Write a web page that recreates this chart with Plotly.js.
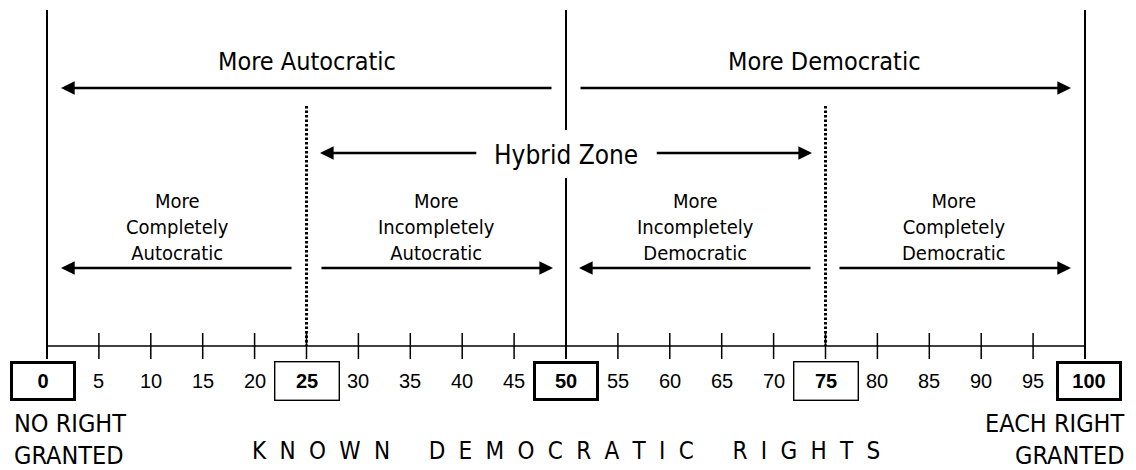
<!DOCTYPE html>
<html>
<head>
<meta charset="utf-8">
<script src="https://cdn.plot.ly/plotly-3.0.1.min.js"></script>
<style>
  html, body { margin: 0; padding: 0; background: #fff; }
  #chart { width: 1136px; height: 470px; }
</style>
</head>
<body>
<div id="chart"></div>
<script>
// scale values
const tickValues = [5, 10, 15, 20, 25, 30, 35, 40, 45, 50, 55, 60, 65, 70, 75, 80, 85, 90, 95]
const plainTicks = [5, 10, 15, 20, 30, 35, 40, 45, 55, 60, 65, 70, 80, 85, 90, 95]
const boxedTicks = [0, 25, 50, 75, 100]
const boxedHeavy = [true, false, true, false, true]
const solidLines = [0, 50, 100]
const dottedLines = [25, 75]

// arrows: tail -> tip (in scale units)
const topLabels = ['More Autocratic', 'More Democratic']
const topTail = [48.75, 51.25]
const topTip = [1.35, 98.65]

const hybridLabel = 'Hybrid Zone'
const hybridTail = [41.5, 58.6]
const hybridTip = [26.3, 73.7]

const zoneLabels = ['More<br>Completely<br>Autocratic', 'More<br>Incompletely<br>Autocratic',
    'More<br>Incompletely<br>Democratic', 'More<br>Completely<br>Democratic']
const zoneTail = [23.7, 26.3, 73.7, 76.2]
const zoneTip = [1.35, 48.75, 51.25, 98.65]

const axisWords = ['KNOWN', 'DEMOCRATIC', 'RIGHTS']
const leftEnd = ['NO RIGHT', 'GRANTED']
const rightEnd = ['EACH RIGHT', 'GRANTED']

// layout rows (pixels from top, y axis runs 0..470 downward)
const Y_TOP = 10, Y_AXIS = 346, Y_TICK0 = 333, Y_TICK1 = 359
const Y_TOPARROW = 88, Y_TOPTEXT = 61
const Y_HYBRID = 153, Y_DOT0 = 106
const Y_ZONEARROW = 268, Y_ZONETEXT = 227
const Y_LABELS = 381
const GAP0 = 130, GAP1 = 178

const TXT = '"DejaVu Sans Condensed", "DejaVu Sans", sans-serif'
const NUM = '"Liberation Sans", Arial, sans-serif'

// letter-spaced title
const LGAP = '\u00a0\u2009\u200a'
const WGAP = '\u00a0\u00a0\u00a0\u00a0\u00a0\u2009'
const axisTitle = axisWords.map(w => w.split('').join(LGAP)).join(WGAP)

function segs(xs, y0, y1) {
    let x = [], y = []
    xs.forEach(v => { x.push(v, v, null); y.push(y0, y1, null) })
    return { x, y }
}

function arrow(tail, tip, y) {
    return {
        x: tip, y: y, xref: 'x', yref: 'y',
        ax: tail, ay: y, axref: 'x', ayref: 'y',
        text: '', showarrow: true,
        arrowhead: 2, arrowsize: 1.05, arrowwidth: 2.6, arrowcolor: '#000',
        standoff: 0, startstandoff: 0
    }
}

function label(text, x, y, size, extra = {}) {
    return Object.assign({
        x: x, y: y, xref: 'x', yref: 'y', text: text, showarrow: false,
        xanchor: 'center', yanchor: 'middle',
        font: { family: TXT, size: size, color: '#000' }
    }, extra)
}

let ticks = segs(tickValues, Y_TICK0, Y_TICK1)
let solid = segs(solidLines.filter(v => v !== 50), Y_TOP, Y_TICK1)
let mid = segs([50, 50], 0, 0)
mid.y = [Y_TOP, GAP0, null, GAP1, Y_TICK1, null]
let dots = segs(dottedLines, Y_DOT0, Y_AXIS)

let data = [
    { x: [0, 100], y: [Y_AXIS, Y_AXIS], mode: 'lines', line: { color: '#000', width: 1.5 }, hoverinfo: 'skip' },
    { x: ticks.x, y: ticks.y, mode: 'lines', line: { color: '#000', width: 1.5 }, hoverinfo: 'skip' },
    { x: solid.x.concat(mid.x), y: solid.y.concat(mid.y), mode: 'lines', line: { color: '#000', width: 2 }, hoverinfo: 'skip' },
    { x: dots.x, y: dots.y, mode: 'lines', line: { color: '#000', width: 3, dash: '2.5px,2px' }, hoverinfo: 'skip' }
]

let annotations = []

topLabels.forEach((t, i) => {
    annotations.push(arrow(topTail[i], topTip[i], Y_TOPARROW))
    annotations.push(label(t, (topTail[i] + topTip[i]) / 2, Y_TOPTEXT, 25))
})

hybridTail.forEach((t, i) => annotations.push(arrow(t, hybridTip[i], Y_HYBRID)))
annotations.push(label(hybridLabel, 50, 155, 26))

zoneLabels.forEach((t, i) => {
    annotations.push(arrow(zoneTail[i], zoneTip[i], Y_ZONEARROW))
    annotations.push(label(t, (zoneTail[i] + zoneTip[i]) / 2, Y_ZONETEXT, 20))
})

plainTicks.forEach(v => {
    annotations.push(label(String(v), v, Y_LABELS, 20, { font: { family: NUM, size: 20, color: '#000' } }))
})

boxedTicks.forEach((v, i) => {
    let bw = boxedHeavy[i] ? 3 : 1.4
    annotations.push(label('<b>' + v + '</b>', v, Y_LABELS, 20, {
        font: { family: NUM, size: 20, color: '#000' },
        bordercolor: '#000', borderwidth: bw, borderpad: 0,
        width: 66 - 2 * bw, height: 40 - 2 * bw,
        xshift: v === 0 ? -4 : (v === 100 ? 4 : 0)
    }))
})

annotations.push(label(axisTitle, 50, 451, 24))

const endRows = [423, 455]
leftEnd.forEach((t, i) => annotations.push({
    x: 12 / 1136, y: endRows[i], xref: 'paper', yref: 'y', text: t, showarrow: false,
    xanchor: 'left', yanchor: 'middle',
    font: { family: TXT, size: 25, color: '#000' }
}))
rightEnd.forEach((t, i) => annotations.push({
    x: 1127 / 1136, y: endRows[i], xref: 'paper', yref: 'y', text: t, showarrow: false,
    xanchor: 'right', yanchor: 'middle',
    font: { family: TXT, size: 25, color: '#000' }
}))

let layout = {
    width: 1136, height: 470,
    margin: { l: 0, r: 0, t: 0, b: 0 },
    paper_bgcolor: '#fff', plot_bgcolor: '#fff',
    showlegend: false,
    xaxis: { range: [-47 / 10.38, 100 + 51 / 10.38], visible: false, fixedrange: true },
    yaxis: { range: [470, 0], visible: false, fixedrange: true },
    annotations: annotations
}

Plotly.newPlot('chart', data, layout, { staticPlot: true })
</script>
</body>
</html>
